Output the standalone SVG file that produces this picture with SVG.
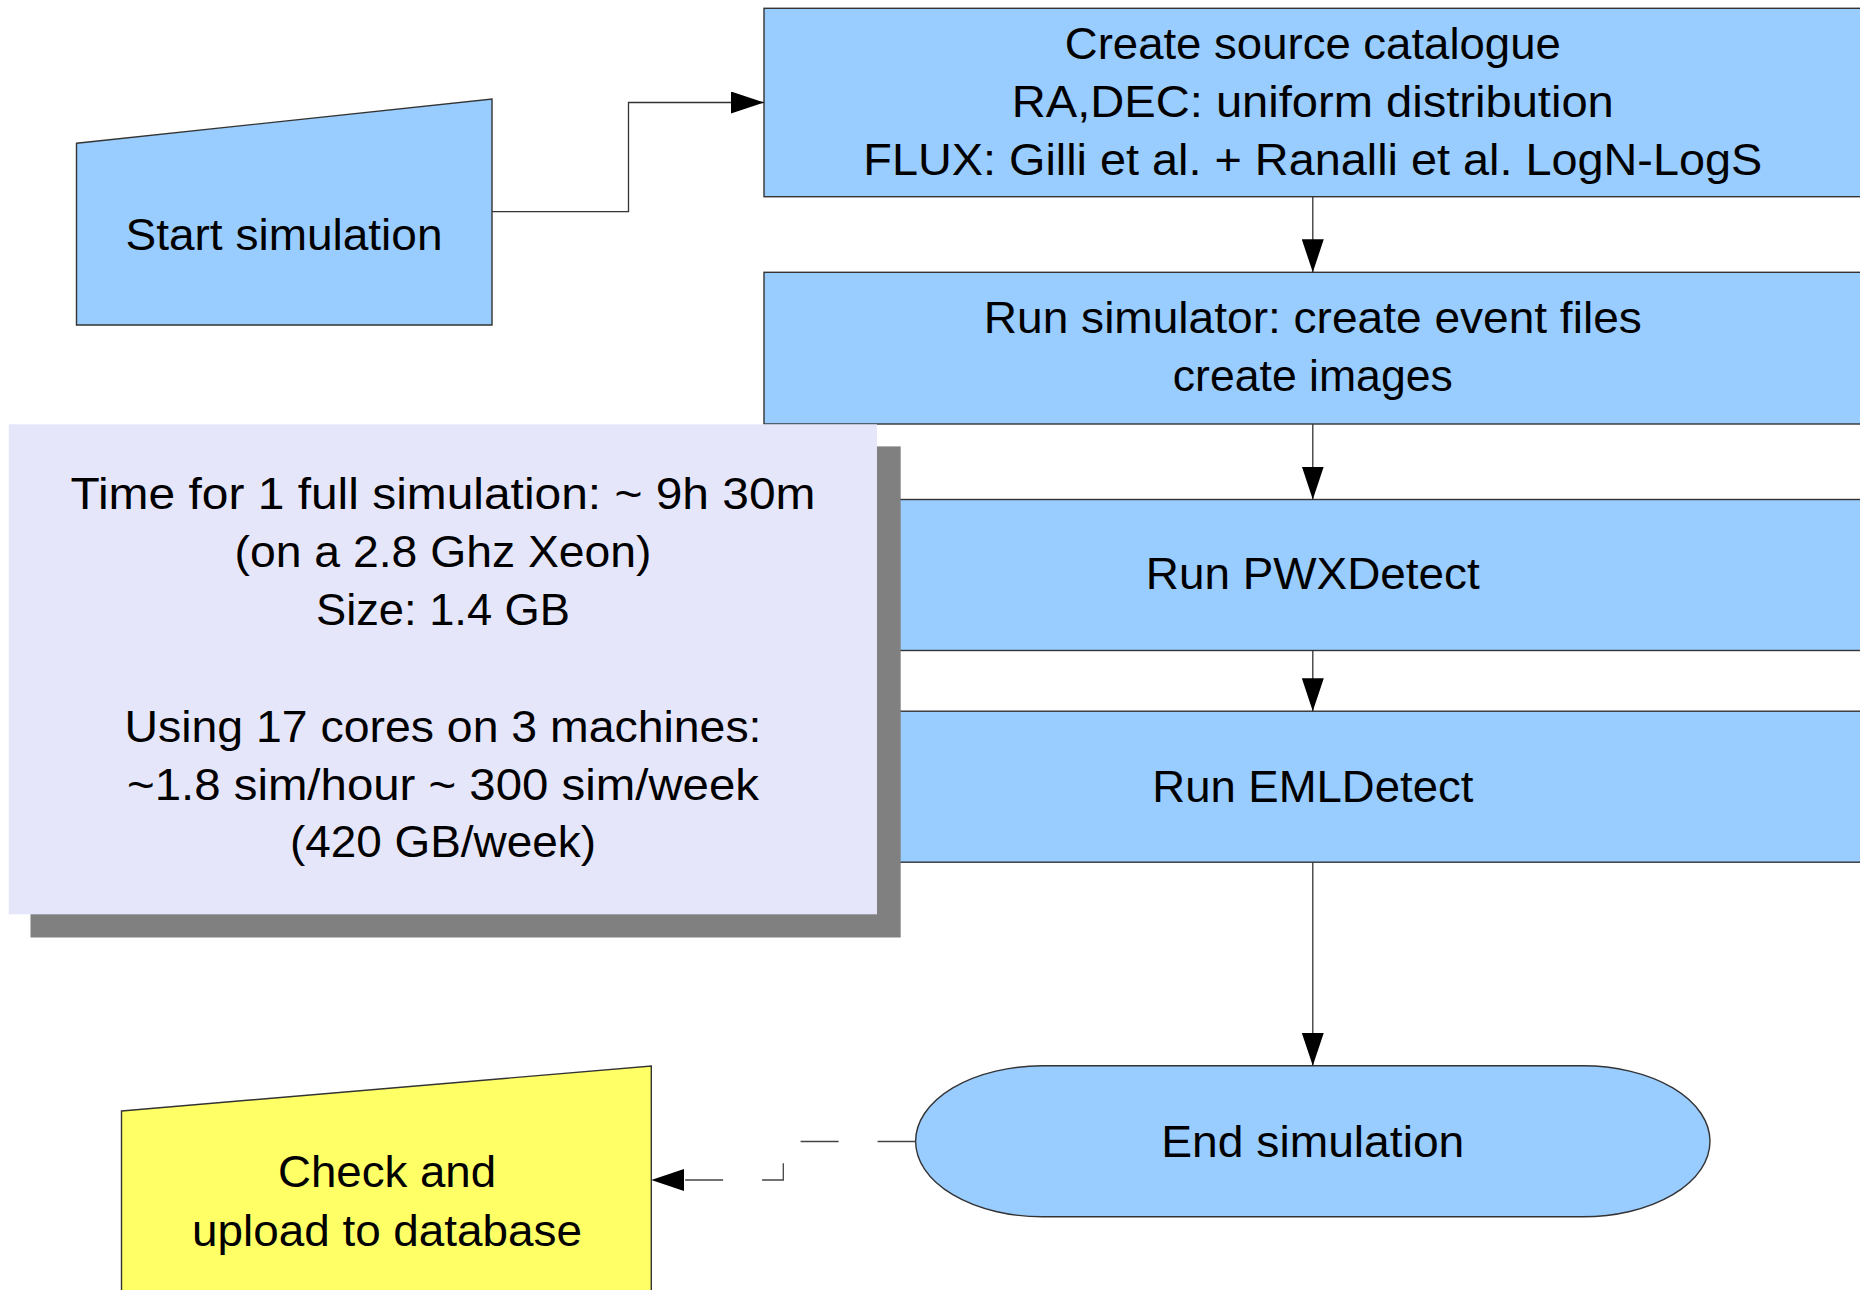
<svg xmlns="http://www.w3.org/2000/svg" width="1860" height="1290" viewBox="0 0 1860 1290">
<style>
.box{fill:#99ccff;stroke:#333;stroke-width:1.4}
.t{font-family:"Liberation Sans",Arial,sans-serif;font-size:45px;fill:#000;text-anchor:middle}
.c{fill:none;stroke:#333;stroke-width:1.3}
.d{fill:none;stroke:#444;stroke-width:1.3;stroke-dasharray:38 39}
</style>
<defs>
<marker id="ah" viewBox="0 0 33 22" refX="33" refY="11" markerWidth="33" markerHeight="22" markerUnits="userSpaceOnUse" orient="auto">
<path d="M0,0 L33,11 L0,22 Z" fill="#000"/>
</marker>
</defs>
<rect width="1860" height="1290" fill="#fff"/>

<g id="start">
<polygon class="box" points="76.5,143.3 492,99 492,325 76.5,325"/>
<text class="t" x="284" y="250" textLength="317" lengthAdjust="spacingAndGlyphs">Start simulation</text>
</g>

<g id="create">
<rect class="box" x="764" y="8.3" width="1098" height="188.4"/>
<text class="t" x="1312.8" y="59" textLength="496" lengthAdjust="spacingAndGlyphs">Create source catalogue</text>
<text class="t" x="1312.8" y="117" textLength="602" lengthAdjust="spacingAndGlyphs">RA,DEC: uniform distribution</text>
<text class="t" x="1312.8" y="175" textLength="899" lengthAdjust="spacingAndGlyphs">FLUX: Gilli et al. + Ranalli et al. LogN-LogS</text>
</g>

<g id="runsim">
<rect class="box" x="764" y="272.3" width="1098" height="151.7"/>
<text class="t" x="1312.8" y="333" textLength="658" lengthAdjust="spacingAndGlyphs">Run simulator: create event files</text>
<text class="t" x="1312.8" y="391" textLength="280" lengthAdjust="spacingAndGlyphs">create images</text>
</g>

<g id="pwx">
<rect class="box" x="764" y="499.5" width="1098" height="151"/>
<text class="t" x="1312.8" y="589" textLength="334" lengthAdjust="spacingAndGlyphs">Run PWXDetect</text>
</g>

<g id="eml">
<rect class="box" x="764" y="711.2" width="1098" height="151"/>
<text class="t" x="1312.8" y="802" textLength="321" lengthAdjust="spacingAndGlyphs">Run EMLDetect</text>
</g>

<g id="note">
<rect x="30.5" y="446.4" width="870.2" height="491.1" fill="#808080"/>
<rect x="8.8" y="424.3" width="868.2" height="490" fill="#e6e6fa"/>
<text class="t" x="443" y="509" textLength="745" lengthAdjust="spacingAndGlyphs">Time for 1 full simulation: ~ 9h 30m</text>
<text class="t" x="443" y="567" textLength="417" lengthAdjust="spacingAndGlyphs">(on a 2.8 Ghz Xeon)</text>
<text class="t" x="443" y="625" textLength="254" lengthAdjust="spacingAndGlyphs">Size: 1.4 GB</text>
<text class="t" x="443" y="742" textLength="637" lengthAdjust="spacingAndGlyphs">Using 17 cores on 3 machines:</text>
<text class="t" x="443" y="800" textLength="632" lengthAdjust="spacingAndGlyphs">~1.8 sim/hour ~ 300 sim/week</text>
<text class="t" x="443" y="857" textLength="306" lengthAdjust="spacingAndGlyphs">(420 GB/week)</text>
</g>

<g id="end">
<rect class="box" x="915.6" y="1065.8" width="794.4" height="151" rx="127" ry="75.5"/>
<text class="t" x="1312.8" y="1156.6" textLength="303" lengthAdjust="spacingAndGlyphs">End simulation</text>
</g>

<g id="check">
<polygon points="121.5,1111 651.3,1066 651.3,1300 121.5,1300" fill="#ffff66" stroke="#333" stroke-width="1.4"/>
<text class="t" x="387" y="1187" textLength="218" lengthAdjust="spacingAndGlyphs">Check and</text>
<text class="t" x="387" y="1246" textLength="390" lengthAdjust="spacingAndGlyphs">upload to database</text>
</g>

<g id="connectors">
<path class="c" d="M492,211.7 H628.5 V102.5 H764" marker-end="url(#ah)"/>
<path class="c" d="M1312.8,196.7 V272.3" marker-end="url(#ah)"/>
<path class="c" d="M1312.8,424 V499.5" marker-end="url(#ah)"/>
<path class="c" d="M1312.8,650.5 V711.2" marker-end="url(#ah)"/>
<path class="c" d="M1312.8,862.2 V1065.8" marker-end="url(#ah)"/>
<path class="d" d="M915.6,1141.5 H783.3 V1180 H651.3" marker-end="url(#ah)"/>
</g>
</svg>
